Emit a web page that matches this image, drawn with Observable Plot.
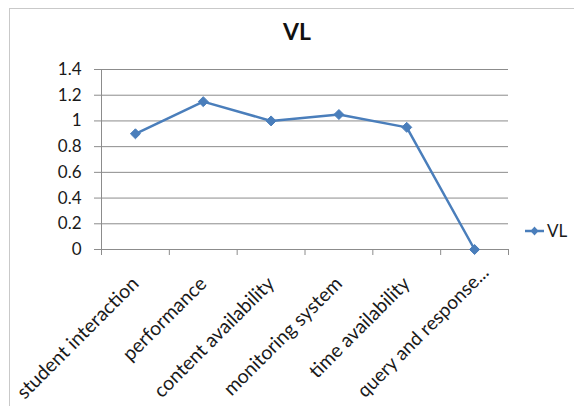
<!DOCTYPE html>
<html><head><meta charset="utf-8">
<script src="https://cdn.jsdelivr.net/npm/d3@7"></script>
<script src="https://cdn.jsdelivr.net/npm/@observablehq/plot@0.6"></script>
<style>
body{margin:0;background:#fff;}
#wrap{position:relative;width:574px;height:406px;overflow:hidden;font-family:Lato,"Open Sans",sans-serif;color:#222;}
#frame{position:absolute;left:9px;top:8px;width:620px;height:520px;border:1.5px solid #c9c9c9;}
#title{position:absolute;left:247px;width:100px;top:17px;text-align:center;font-weight:bold;font-size:23px;color:#111;}
#chart{position:absolute;left:0;top:0;}
#legend{position:absolute;left:525px;top:220px;display:flex;align-items:center;font-size:17px;color:#1a1a1a;}
#legend svg{margin-right:2px;}
</style></head>
<body>
<div id="wrap">
  <div id="frame"></div>
  <div id="chart"></div>
  <div id="title"></div>
  <div id="legend"></div>
</div>
<script>
const seriesName = "VL";
const categories = ["student interaction","performance","content availability","monitoring system","time availability","query and response..."];
const values = [0.9, 1.15, 1.0, 1.05, 0.95, 0];
const yTicks = [0, 0.2, 0.4, 0.6, 0.8, 1, 1.2, 1.4];
const lineColor = "#4a7ebb";

const data = categories.map((c, i) => ({cat: c, i, value: values[i]}));
const last = data.length - 1;

document.getElementById("title").textContent = seriesName;

const labelStyle = {x: d => d.i + 0.5, y: () => 0, text: "cat", rotate: -45, textAnchor: "end", fontSize: 19.5, fill: "#1a1a1a"};

const chart = Plot.plot({
  width: 574, height: 406,
  marginLeft: 101, marginRight: 66, marginTop: 69, marginBottom: 157,
  style: {fontFamily: "Lato, 'Open Sans', sans-serif", fontSize: "17px", color: "#222", background: "transparent"},
  x: {domain: [0, categories.length], axis: null},
  y: {domain: [0, 1.4], axis: null},
  marks: [
    Plot.gridY(yTicks, {stroke: "#8c8c8c", strokeOpacity: 1, strokeWidth: 1}),
    Plot.axisY(yTicks, {tickSize: 7, tickPadding: 13, stroke: "#8c8c8c", fill: "#1a1a1a", tickFormat: d => String(d), fontSize: 17, label: null}),
    Plot.ruleX([0], {stroke: "#8c8c8c"}),
    Plot.axisX(d3.range(categories.length + 1), {tickSize: 6, stroke: "#8c8c8c", tickFormat: () => "", label: null}),
    Plot.ruleY([0], {stroke: "#8c8c8c"}),
    Plot.text(data.slice(0, last), {...labelStyle, dx: 0, dy: 31}),
    Plot.text(data.slice(last), {...labelStyle, fontSize: 19, dx: 11, dy: 20}),
    Plot.line(data, {x: d => d.i + 0.5, y: "value", stroke: lineColor, strokeWidth: 2.5}),
    Plot.dot(data, {x: d => d.i + 0.5, y: "value", symbol: "diamond2", r: 4.5, fill: lineColor, stroke: lineColor, strokeWidth: 1})
  ]
});
document.getElementById("chart").appendChild(chart);

const lg = document.getElementById("legend");
lg.innerHTML = `<svg width="20" height="20"><line x1="0" x2="19" y1="10" y2="10" stroke="${lineColor}" stroke-width="2.5"/><path d="M9.5 5.5 L13.5 10 L9.5 14.5 L5.5 10 Z" fill="${lineColor}"/></svg><span>${seriesName}</span>`;
</script>
</body></html>
